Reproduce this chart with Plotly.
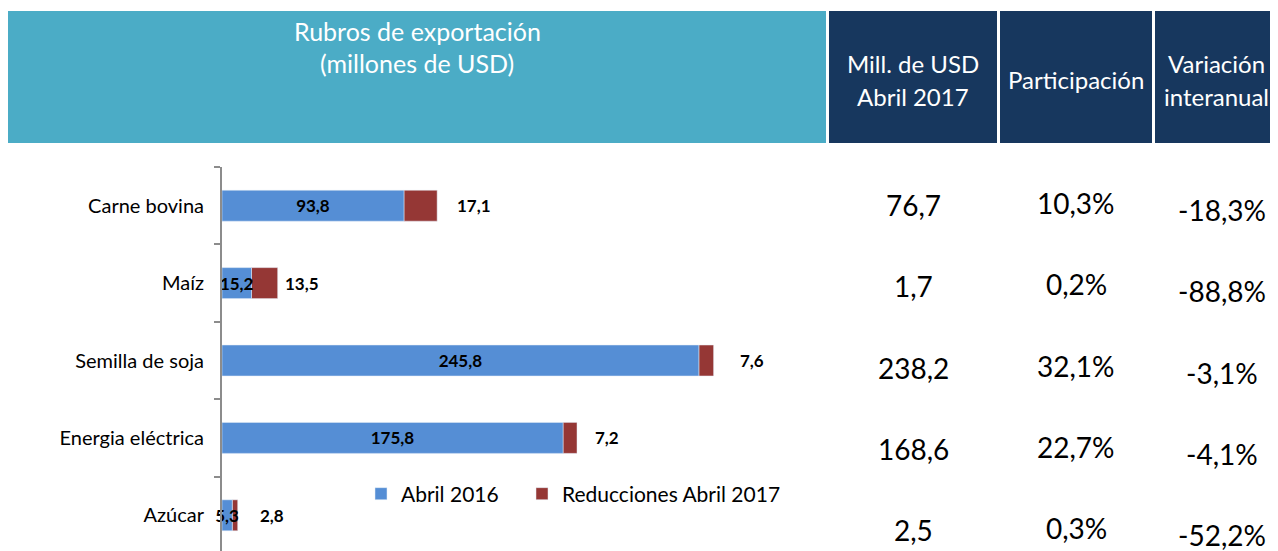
import plotly.graph_objects as go

# ---------------- data ----------------
categories = ["Carne bovina", "Maíz", "Semilla de soja", "Energia eléctrica", "Azúcar"]
abril_2016 = [93.8, 15.2, 245.8, 175.8, 5.3]
reducciones_2017 = [17.1, 13.5, 7.6, 7.2, 2.8]
mill_usd_2017 = [76.7, 1.7, 238.2, 168.6, 2.5]
participacion = [10.3, 0.2, 32.1, 22.7, 0.3]
variacion = [-18.3, -88.8, -3.1, -4.1, -52.2]

header_main = ["Rubros de exportación", "(millones de USD)"]
header_cols = [["Mill. de USD", "Abril 2017"], ["Participación"], ["Variación", "interanual"]]

# ---------------- layout constants ----------------
OFF = 8                      # default page margin of the html body
SW, SH = 1278, 551           # screen size
W, H = SW - OFF, SH - OFF    # figure size
FONT = "Lato"
BLUE = "#558ED5"
RED = "#953735"
TEAL = "#4BACC6"
NAVY = "#17375E"
AXIS = "#8C8C8C"
RED_LABEL_SHIFT = [18, 5, 24, 16, 20]   # px gap after each stacked bar


def px(x):
    """screen x pixel -> paper fraction"""
    return (x - OFF) / W


def py(y):
    """screen y pixel -> paper fraction"""
    return 1 - (y - OFF) / H


def fmt(v):
    return f"{v:.1f}".replace(".", ",")


fig = go.Figure()

# the reduction segment is drawn first (starting where the 2016 bar ends)
# so that the 2016 value labels sit on top of it
fig.add_trace(go.Bar(
    y=categories, x=reducciones_2017, base=abril_2016, orientation="h",
    name="Reducciones Abril 2017",
    marker=dict(color=RED), width=0.4, hoverinfo="skip", legend="legend2",
))
fig.add_trace(go.Bar(
    y=categories, x=abril_2016, orientation="h", name="Abril 2016",
    marker=dict(color=BLUE), width=0.4,
    text=[fmt(v) for v in abril_2016], textposition="inside",
    insidetextanchor="middle", textangle=0, constraintext="none",
    cliponaxis=False,
    textfont=dict(family=FONT, size=17, color="black", weight="bold"),
    hoverinfo="skip", legend="legend",
))

annotations = []
# labels for reductions, right of the stacked bar
for cat, a, r, sh in zip(categories, abril_2016, reducciones_2017, RED_LABEL_SHIFT):
    annotations.append(dict(
        x=a + r, y=cat, xref="x", yref="y", text=fmt(r), showarrow=False,
        xanchor="left", xshift=sh, yshift=0,
        font=dict(family=FONT, size=17, color="black", weight="bold"),
    ))

# table values
COL_X = [913, 1076, 1222]
COL_SHIFT = [0, 2, -5]
columns = [
    [fmt(v) for v in mill_usd_2017],
    [fmt(v) + "%" for v in participacion],
    [fmt(v) + "%" for v in variacion],
]
for cx, shift, col in zip(COL_X, COL_SHIFT, columns):
    for i, t in enumerate(col):
        annotations.append(dict(
            x=cx, y=i, xref="x2", yref="y2", text=t, showarrow=False,
            xanchor="center", yanchor="middle", yshift=shift,
            font=dict(family=FONT, size=28, color="black"),
        ))

# headers
HDR_TOP, HDR_BOT = 11, 143
shapes = [dict(type="rect", xref="paper", yref="paper",
               x0=px(8), x1=px(826), y0=py(HDR_BOT), y1=py(HDR_TOP),
               fillcolor=TEAL, line=dict(width=0), layer="below")]
HDR_BOXES = [(829, 997), (1000, 1152), (1155, 1280)]
for x0, x1 in HDR_BOXES:
    shapes.append(dict(type="rect", xref="paper", yref="paper",
                       x0=px(x0), x1=px(x1), y0=py(HDR_BOT), y1=py(HDR_TOP),
                       fillcolor=NAVY, line=dict(width=0), layer="below"))

for text, yy in zip(header_main, [31, 63]):
    annotations.append(dict(x=px(417), y=py(yy), xref="paper", yref="paper",
                            text=text, showarrow=False, xanchor="center", yanchor="middle",
                            font=dict(family=FONT, size=25, color="white")))

HDR_LINES_Y = {1: [79], 2: [64, 96]}
for (x0, x1), lines in zip(HDR_BOXES, header_cols):
    cx = (x0 + min(x1, SW)) / 2
    for text, yy in zip(lines, HDR_LINES_Y[len(lines)]):
        annotations.append(dict(x=px(cx), y=py(yy), xref="paper", yref="paper",
                                text=text, showarrow=False, xanchor="center", yanchor="middle",
                                font=dict(family=FONT, size=24, color="white")))

# invisible trace to anchor the table axes
fig.add_trace(go.Scatter(x=COL_X, y=[0, 0, 0], xaxis="x2", yaxis="y2",
                         mode="markers", marker=dict(opacity=0), showlegend=False,
                         hoverinfo="skip"))

PLOT_TOP = 167          # screen y of the top of the bar area
PITCH = 77.4            # px per category
span = (SH - PLOT_TOP) / PITCH
ROW0, ROWP = 205, 81.25  # table rows

X0, X1, PPU = 222, 826, 1.94

legend_common = dict(orientation="h", xanchor="left", yanchor="middle",
                     font=dict(family=FONT, size=21, color="black"),
                     bgcolor="rgba(0,0,0,0)")

fig.update_layout(
    width=W, height=H,
    margin=dict(l=0, r=0, t=0, b=0),
    paper_bgcolor="white", plot_bgcolor="rgba(0,0,0,0)",
    barmode="overlay",
    showlegend=True,
    legend=dict(x=px(361), y=py(494), **legend_common),
    legend2=dict(x=px(522), y=py(494), **legend_common),
    xaxis=dict(domain=[px(X0), px(X1)], range=[0, (X1 - X0) / PPU],
               visible=False, fixedrange=True),
    yaxis=dict(domain=[0, py(PLOT_TOP)], type="category",
               categoryorder="array", categoryarray=categories,
               range=[-0.5 + span, -0.5],
               showline=True, linecolor=AXIS, linewidth=2,
               ticks="outside", tickson="boundaries", ticklen=6,
               tickcolor=AXIS, tickwidth=2, showgrid=False, zeroline=False,
               tickfont=dict(family=FONT, size=20, color="black"),
               ticklabelstandoff=12, fixedrange=True),
    xaxis2=dict(domain=[0, 1], range=[OFF, SW], visible=False, anchor="y2",
                fixedrange=True),
    yaxis2=dict(domain=[0, py(PLOT_TOP)], anchor="x2",
                range=[(SH - ROW0) / ROWP, -(ROW0 - PLOT_TOP) / ROWP],
                visible=False, fixedrange=True),
    annotations=annotations,
    shapes=shapes,
    font=dict(family=FONT),
)

fig.write_html("out.html")
